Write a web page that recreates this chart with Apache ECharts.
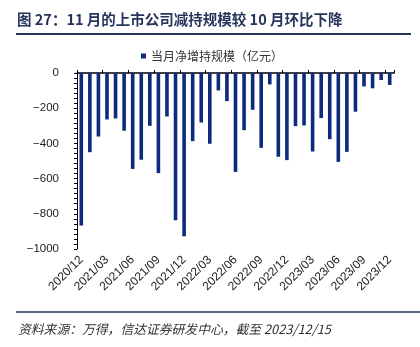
<!DOCTYPE html>
<html>
<head>
<meta charset="utf-8">
<script src="https://cdn.jsdelivr.net/npm/echarts@6/dist/echarts.min.js"></script>
<style>
  html, body { margin: 0; padding: 0; background: #fff; }
  #chart { width: 420px; height: 347px; }
</style>
</head>
<body>
<div id="chart"></div>
<script>
// Monthly net change in holdings by listed-company shareholders (100m CNY)
const months = [
  '2020/12', '2021/01', '2021/02', '2021/03', '2021/04', '2021/05', '2021/06',
  '2021/07', '2021/08', '2021/09', '2021/10', '2021/11', '2021/12',
  '2022/01', '2022/02', '2022/03', '2022/04', '2022/05', '2022/06',
  '2022/07', '2022/08', '2022/09', '2022/10', '2022/11', '2022/12',
  '2023/01', '2023/02', '2023/03', '2023/04', '2023/05', '2023/06',
  '2023/07', '2023/08', '2023/09', '2023/10', '2023/11', '2023/12'
];
const netChange = [
  -867, -450, -361, -264, -258, -328, -545,
  -493, -300, -569, -247, -837, -928,
  -387, -281, -402, -99, -160, -562,
  -325, -209, -425, -65, -476, -495,
  -302, -298, -446, -256, -376, -505,
  -448, -220, -76, -87, -40, -68
];
const yTicks = { min: -1000, max: 0, interval: 200 };
const seriesName = '当月净增持规模（亿元）';
const titleText = '图 27：11 月的上市公司减持规模较 10 月环比下降';
const sourceText = '资料来源：万得，信达证券研发中心，截至 2023/12/15';

const navy = '#26355c';
const barColor = '#0d2a7d';
const cjk = '"Noto Sans CJK SC", "Liberation Sans", sans-serif';
const latin = '"Liberation Sans", Arial, sans-serif';

const chart = echarts.init(document.getElementById('chart'), null, { renderer: 'canvas' });
chart.setOption({
  animation: false,
  backgroundColor: '#fff',
  title: [
    {
      text: titleText, left: 17, top: 11, padding: 0,
      textStyle: { fontFamily: cjk, fontSize: 14.5, fontWeight: 'bold', color: navy, lineHeight: 16 }
    },
    {
      text: sourceText, left: 18, top: 321, padding: 0,
      textStyle: { fontFamily: cjk, fontSize: 12.8, fontStyle: 'italic', fontWeight: 'normal', color: '#333', lineHeight: 16 }
    }
  ],
  graphic: [
    { type: 'line', shape: { x1: 16, y1: 34, x2: 411, y2: 34 }, style: { stroke: navy, lineWidth: 2 } },
    { type: 'line', shape: { x1: 16, y1: 312, x2: 420, y2: 312 }, style: { stroke: navy, lineWidth: 1.5 } }
  ],
  legend: {
    data: [seriesName], left: 141, top: 50, padding: 0,
    icon: 'rect', itemWidth: 5, itemHeight: 5, itemGap: 5,
    textStyle: { fontFamily: cjk, fontSize: 12, color: '#333', padding: [0, 0, 0, 0] }
  },
  grid: { left: 77, right: 26, top: 73, bottom: 98, containLabel: false },
  xAxis: [
    {
      // axis line drawn along zero, ticks every three months
      type: 'category', data: months, position: 'top',
      axisLine: { show: true, onZero: false, lineStyle: { color: '#000', width: 1.5 } },
      axisTick: { show: true, interval: 2, length: 3, lineStyle: { color: '#000', width: 1 } },
      axisLabel: { show: false },
      splitLine: { show: false }
    },
    {
      // month labels along the bottom
      type: 'category', data: months, position: 'bottom',
      axisLine: { show: false }, axisTick: { show: false },
      axisLabel: {
        show: true, interval: 2, rotate: 45, margin: 9,
        fontFamily: latin, fontSize: 12, color: '#222'
      },
      splitLine: { show: false }
    }
  ],
  yAxis: {
    type: 'value', min: yTicks.min, max: yTicks.max, interval: yTicks.interval,
    axisLine: { show: true, lineStyle: { color: '#000', width: 1 } },
    axisTick: { show: true, inside: false, length: 3, lineStyle: { color: '#000' } },
    minorTick: { show: true, splitNumber: 7, length: 3, lineStyle: { color: '#000' } },
    splitLine: { show: false },
    axisLabel: {
      margin: 18, fontFamily: latin, fontSize: 11.5, color: '#222',
      formatter: v => String(v).replace('-', '\u2212')
    }
  },
  series: [
    {
      name: seriesName, type: 'bar', data: netChange, xAxisIndex: 0,
      barWidth: '42%', itemStyle: { color: barColor }
    }
  ]
});
</script>
</body>
</html>
